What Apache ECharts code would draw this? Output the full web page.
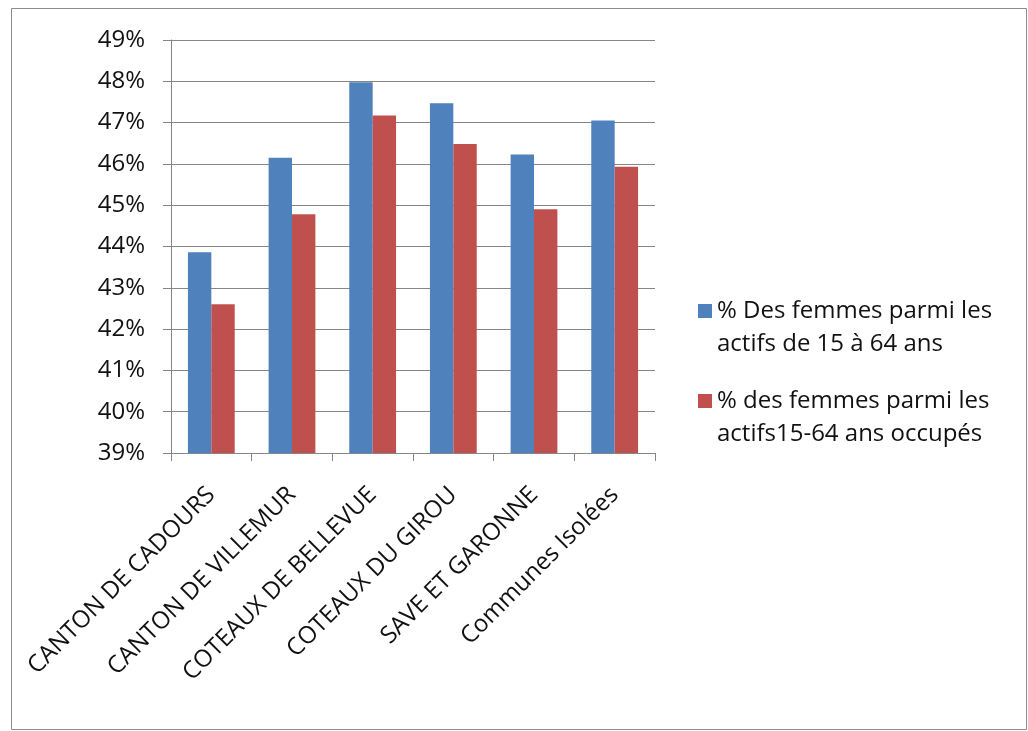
<!DOCTYPE html>
<html>
<head>
<meta charset="utf-8">
<title>Part des femmes parmi les actifs</title>
<script src="https://cdn.jsdelivr.net/npm/echarts@6/dist/echarts.min.js"></script>
<style>
  html, body { margin: 0; padding: 0; background: #ffffff; }
  #chart { width: 1028px; height: 731px; }
</style>
</head>
<body>
<div id="chart"></div>
<script>
// Territories along the x axis
const categories = [
  'CANTON DE CADOURS',
  'CANTON DE VILLEMUR',
  'COTEAUX DE BELLEVUE',
  'COTEAUX DU GIROU',
  'SAVE ET GARONNE',
  'Communes Isolées'
];

// Series names (legend text)
const seriesNames = [
  '% Des femmes parmi les\nactifs de 15 à 64 ans',
  '% des femmes parmi les\nactifs15-64 ans occupés'
];

// Values in percent
const femmesActives = [43.86, 46.15, 47.98, 47.47, 46.23, 47.05];
const femmesOccupees = [42.60, 44.78, 47.17, 46.48, 44.90, 45.93];

// Y axis range (percent)
const yMin = 39;
const yMax = 49;
const yStep = 1;

const FONT = '"Open Sans", "DejaVu Sans", sans-serif';
const TEXT = '#111111';
const AXIS = '#868686';
const LINE_H = 33;

const chart = echarts.init(document.getElementById('chart'), null, { renderer: 'canvas' });

// One legend block per series; a blank leading line keeps the swatch
// level with the first line of the two-line label.
function legendFor(name, firstLineCenter) {
  return {
    data: [name],
    orient: 'vertical',
    left: 698,
    top: firstLineCenter - 1.5 * LINE_H,
    padding: 0,
    itemWidth: 14,
    itemHeight: 14,
    itemGap: 0,
    icon: 'rect',
    selectedMode: false,
    formatter: n => '\u00a0\n' + n,
    textStyle: {
      fontFamily: FONT,
      fontSize: 24,
      color: TEXT,
      lineHeight: LINE_H
    }
  };
}

chart.setOption({
  animation: false,
  backgroundColor: '#ffffff',
  color: ['#4F81BD', '#C0504D'],
  graphic: [{
    type: 'rect',
    shape: { x: 11.5, y: 8.5, width: 1015, height: 721 },
    style: { fill: 'none', stroke: '#8c8c8c', lineWidth: 1 },
    silent: true
  }],
  legend: [
    legendFor(seriesNames[0], 311),
    legendFor(seriesNames[1], 401)
  ],
  grid: {
    left: 171,
    right: 373,
    top: 40,
    bottom: 278,
    containLabel: false
  },
  xAxis: {
    type: 'category',
    data: categories,
    axisLine: { show: true, lineStyle: { color: AXIS, width: 1 } },
    axisTick: { show: true, length: 8, lineStyle: { color: AXIS } },
    axisLabel: {
      rotate: 45,
      interval: 0,
      margin: 38,
      fontFamily: FONT,
      fontSize: 24,
      color: TEXT
    },
    splitLine: { show: false }
  },
  yAxis: {
    type: 'value',
    min: yMin,
    max: yMax,
    interval: yStep,
    axisLine: { show: true, lineStyle: { color: AXIS, width: 1 } },
    axisTick: { show: true, length: 8, lineStyle: { color: AXIS } },
    axisLabel: {
      margin: 26,
      fontFamily: FONT,
      fontSize: 24,
      color: TEXT,
      formatter: v => v.toFixed(0) + '%'
    },
    splitLine: { show: true, lineStyle: { color: AXIS, width: 1 } }
  },
  series: [
    {
      name: seriesNames[0],
      type: 'bar',
      data: femmesActives,
      barGap: '0%',
      barCategoryGap: '42%'
    },
    {
      name: seriesNames[1],
      type: 'bar',
      data: femmesOccupees,
      barGap: '0%',
      barCategoryGap: '42%'
    }
  ]
});
</script>
</body>
</html>
